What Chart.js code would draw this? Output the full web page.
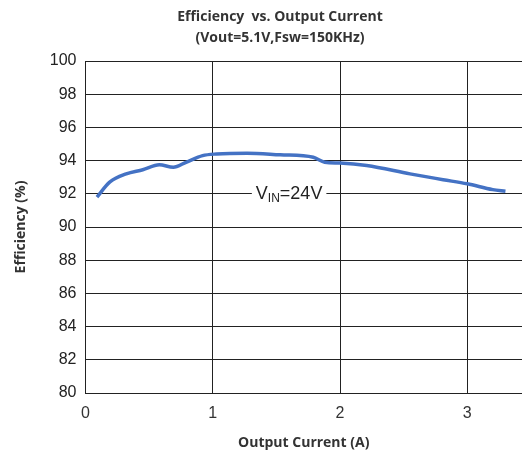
<!DOCTYPE html>
<html>
<head>
<meta charset="utf-8">
<script src="https://cdn.jsdelivr.net/npm/chart.js@4/dist/chart.umd.min.js"></script>
<style>
  html, body { margin: 0; padding: 0; background: #fff; }
  #wrap { width: 522px; height: 452px; }
</style>
</head>
<body>
<div id="wrap"><canvas id="graph"></canvas></div>
<script>
// values
const current = [0.09, 0.19, 0.32, 0.45, 0.58, 0.69, 0.79, 0.92, 1.03, 1.27, 1.53, 1.79, 1.88, 2.0, 2.21, 2.55, 2.81, 3.0, 3.2, 3.3];
const efficiency = [91.8, 92.7, 93.2, 93.45, 93.75, 93.6, 93.9, 94.3, 94.4, 94.45, 94.35, 94.2, 93.9, 93.85, 93.7, 93.2, 92.85, 92.6, 92.25, 92.15];
const titleLines = ['Efficiency  vs. Output Current', '(Vout=5.1V,Fsw=150KHz)'];
const seriesLabel = { main: 'V', sub: 'IN', rest: '=24V', x: 1.6, y: 92 };

const points = current.map((c, i) => ({ x: c, y: efficiency[i] }));

const overlay = {
  id: 'overlay',
  afterDraw(chart) {
    const ctx = chart.ctx;
    ctx.save();
    // title
    ctx.fillStyle = '#333';
    ctx.font = 'bold 14px "Open Sans", sans-serif';
    ctx.textAlign = 'center';
    ctx.textBaseline = 'middle';
    ctx.fillText(titleLines[0], 280, 17);
    ctx.fillText(titleLines[1], 280, 38);
    // series label with white box over the gridline
    const xs = chart.scales.x, ys = chart.scales.y;
    const cx = xs.getPixelForValue(seriesLabel.x);
    const cy = ys.getPixelForValue(seriesLabel.y);
    ctx.font = '18px "Liberation Sans", Arial, sans-serif';
    const wMain = ctx.measureText(seriesLabel.main).width;
    const wRest = ctx.measureText(seriesLabel.rest).width;
    ctx.font = '12px "Liberation Sans", Arial, sans-serif';
    const wSub = ctx.measureText(seriesLabel.sub).width;
    const total = wMain + wSub + wRest;
    let x0 = cx - total / 2;
    ctx.fillStyle = '#fff';
    ctx.fillRect(x0 - 4, cy - 3, total + 8, 6);
    ctx.fillStyle = '#222';
    ctx.textAlign = 'left';
    ctx.font = '18px "Liberation Sans", Arial, sans-serif';
    ctx.fillText(seriesLabel.main, x0, cy);
    ctx.font = '12px "Liberation Sans", Arial, sans-serif';
    ctx.fillText(seriesLabel.sub, x0 + wMain, cy + 5);
    ctx.font = '18px "Liberation Sans", Arial, sans-serif';
    ctx.fillText(seriesLabel.rest, x0 + wMain + wSub, cy);
    ctx.restore();
  }
};

const config = {
  type: 'line',
  data: {
    datasets: [{
      label: 'VIN=24V',
      data: points,
      borderColor: '#4472C4',
      borderWidth: 3.5,
      pointRadius: 0,
      fill: false,
      cubicInterpolationMode: 'monotone'
    }]
  },
  options: {
    responsive: true,
    maintainAspectRatio: false,
    animation: false,
    layout: { padding: { top: 61, right: 0, left: 13, bottom: 1 } },
    plugins: { legend: { display: false }, tooltip: { enabled: false } },
    scales: {
      x: {
        type: 'linear',
        min: 0,
        max: 3.43,
        ticks: {
          stepSize: 1,
          includeBounds: false,
          color: '#333',
          font: { family: '"Liberation Sans", Arial, sans-serif', size: 16 },
          padding: 11
        },
        grid: { color: '#222', drawTicks: false },
        border: { color: '#222' },
        title: {
          display: true,
          text: 'Output Current (A)',
          color: '#333',
          font: { family: '"Open Sans", sans-serif', size: 14, weight: 'bold' },
          padding: { top: 0, bottom: 0 }
        }
      },
      y: {
        min: 80,
        max: 100,
        ticks: {
          stepSize: 2,
          color: '#222',
          font: { family: '"Liberation Sans", Arial, sans-serif', size: 16 },
          padding: 9
        },
        grid: { color: '#222', drawTicks: false },
        border: { color: '#222' },
        title: {
          display: true,
          text: 'Efficiency (%)',
          color: '#333',
          font: { family: '"Open Sans", sans-serif', size: 14, weight: 'bold' },
          padding: { top: 0, bottom: 11 }
        }
      }
    }
  },
  plugins: [overlay]
};

const myChart = new Chart(document.getElementById('graph'), config);
</script>
</body>
</html>
